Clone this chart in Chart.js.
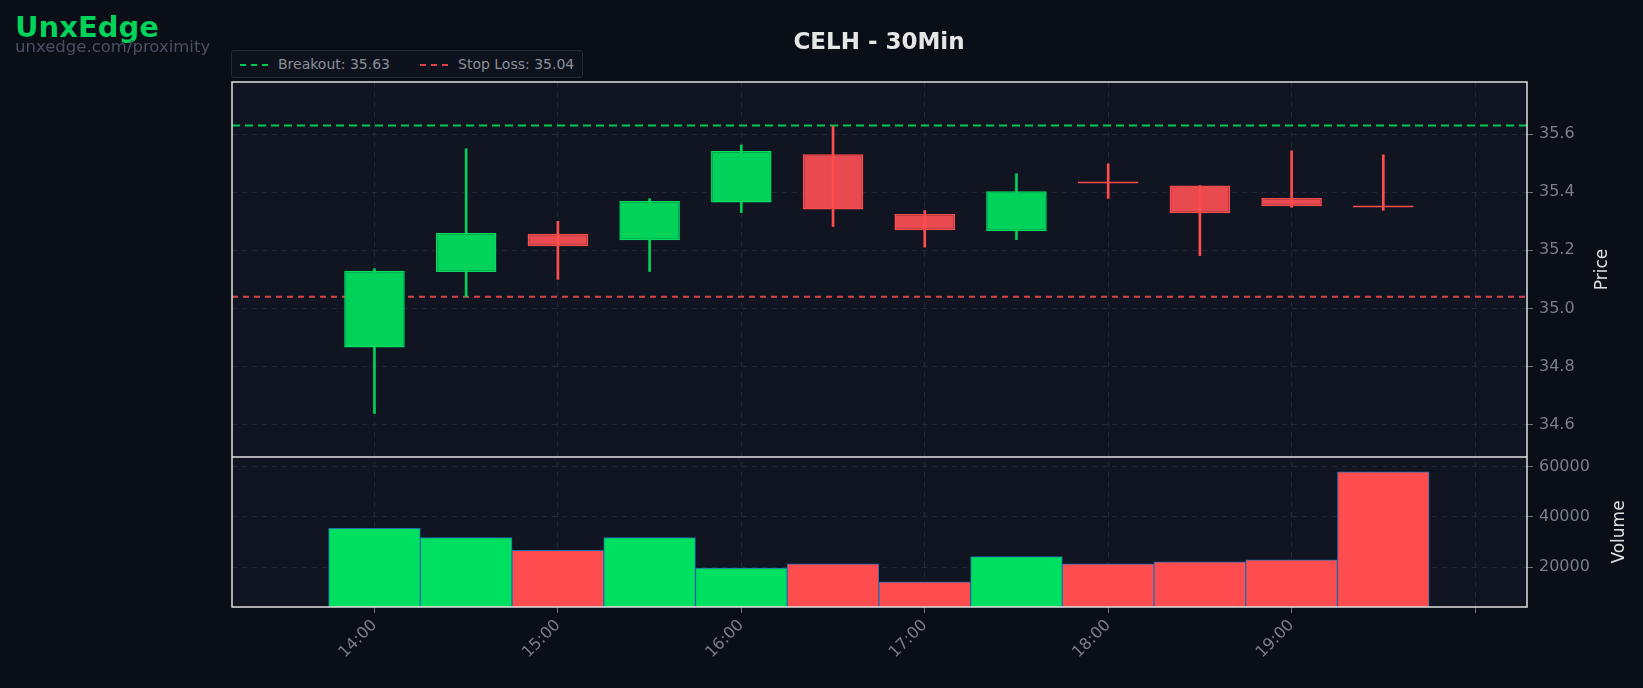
<!DOCTYPE html>
<html lang="en">
<head>
  <meta charset="UTF-8">
  <title>CELH - 30Min</title>
  <script src="https://cdn.jsdelivr.net/npm/chart.js@4.4.1/dist/chart.umd.min.js"></script>
  <style>
    html, body { margin: 0; padding: 0; background: #0a0e16; overflow: hidden; }
    body { width: 1643px; height: 688px; position: relative; font-family: "DejaVu Sans", sans-serif; }
    #wrap { position: absolute; left: 0; top: 0; width: 1643px; height: 688px; }
    #brand { position: absolute; left: 15px; top: 10px; color: #00d25a; font-weight: bold; font-size: 29px; }
    #sub { position: absolute; left: 15px; top: 37px; color: #4a5060; font-size: 16.5px; }
    #title { position: absolute; left: 0; width: 1758px; top: 28px; text-align: center; color: #e6e6e6; font-weight: bold; font-size: 23px; }
    #legend { position: absolute; left: 231px; top: 50px; height: 26px; padding: 0 8px; border: 1px solid #252a38; border-radius: 3px;
      background: #0e121c; color: #8a909a; font-size: 14px; display: flex; align-items: center; gap: 30px; }
    #legend span.k { display: inline-block; width: 28px; border-top: 2px dashed; vertical-align: middle; margin-right: 10px; }
  </style>
</head>
<body>
  <div id="wrap"><canvas id="chart"></canvas></div>
  <div id="brand">UnxEdge</div>
  <div id="sub">unxedge.com/proximity</div>
  <div id="title">CELH - 30Min</div>
  <div id="legend">
    <div><span class="k" style="border-color:#00c853"></span>Breakout: 35.63</div>
    <div><span class="k" style="border-color:#d9434b"></span>Stop Loss: 35.04</div>
  </div>
  <script>
    // times in minutes after midnight
    const times = [840, 870, 900, 930, 960, 990, 1020, 1050, 1080, 1110, 1140, 1170];
    const opens  = [34.865, 35.125, 35.257, 35.235, 35.365, 35.531, 35.325, 35.266, 35.431, 35.423, 35.380, 35.349];
    const highs  = [35.137, 35.550, 35.300, 35.378, 35.563, 35.627, 35.337, 35.464, 35.498, 35.423, 35.543, 35.529];
    const lows   = [34.638, 35.040, 35.100, 35.127, 35.330, 35.282, 35.211, 35.237, 35.379, 35.182, 35.348, 35.338];
    const closes = [35.130, 35.260, 35.214, 35.370, 35.542, 35.341, 35.269, 35.404, 35.430, 35.328, 35.352, 35.348];
    const volumes = [35400, 31700, 26700, 31700, 19600, 21300, 14200, 24200, 21300, 22100, 22900, 57900];
    const breakout = 35.63;
    const stopLoss = 35.04;
    const xTicks = [840, 900, 960, 1020, 1080, 1140, 1200];
    const priceTicks = [34.6, 34.8, 35.0, 35.2, 35.4, 35.6];
    const volTicks = [20000, 40000, 60000];

    const xMin = 793.4, xMax = 1217;
    const up = times.map((t, i) => closes[i] >= opens[i]);
    const GREEN = '#00d25a', RED = '#e84a4f', WICK_RED = '#ff4d4d';

    const frame = {
      id: 'frame',
      beforeDraw(c) {
        const ctx = c.ctx, a = c.chartArea;
        ctx.save();
        ctx.fillStyle = '#111522';
        ctx.fillRect(a.left, a.top, a.right - a.left, a.bottom - a.top);
        ctx.restore();
      },
      afterDraw(c) {
        const ctx = c.ctx, a = c.chartArea, yv = c.scales.yv;
        ctx.save();
        ctx.strokeStyle = '#e0e0e0';
        ctx.lineWidth = 1.5;
        ctx.strokeRect(a.left, a.top, a.right - a.left, a.bottom - a.top);
        ctx.beginPath();
        ctx.moveTo(a.left, yv.top); ctx.lineTo(a.right, yv.top);
        ctx.stroke();
        // axis titles
        ctx.fillStyle = '#e0e0e0';
        ctx.font = '17px "DejaVu Sans"';
        ctx.textAlign = 'center';
        const yp = c.scales.y;
        [['Price', 1607, (yp.top + yp.bottom) / 2], ['Volume', 1624, (yv.top + yv.bottom) / 2]].forEach(([t, x, y]) => {
          ctx.save();
          ctx.translate(x, y);
          ctx.rotate(-Math.PI / 2);
          ctx.fillText(t, 0, 0);
          ctx.restore();
        });
        ctx.restore();
      }
    };

    const grid = { color: '#22273a', lineWidth: 1, offset: false, drawTicks: true, tickColor: '#6b7080', tickLength: 6 };
    const border = { display: false, dash: [5, 5] };
    const tickFont = { family: 'DejaVu Sans', size: 16 };

    new Chart(document.getElementById('chart'), {
      type: 'bar',
      data: {
        datasets: [
          {
            label: 'wick', yAxisID: 'y', grouped: false, barThickness: 2,
            data: times.map((t, i) => ({ x: t, y: [lows[i], highs[i]] })),
            backgroundColor: up.map(u => u ? GREEN : WICK_RED)
          },
          {
            label: 'body', yAxisID: 'y', grouped: false, barPercentage: 0.66, categoryPercentage: 1, minBarLength: 2,
            data: times.map((t, i) => ({ x: t, y: [opens[i], closes[i]] })),
            backgroundColor: up.map(u => u ? GREEN : RED),
            borderColor: up.map(u => u ? '#00e060' : WICK_RED),
            borderWidth: 1.5, borderSkipped: false
          },
          {
            label: 'volume', yAxisID: 'yv', grouped: false, barPercentage: 1, categoryPercentage: 1,
            data: times.map((t, i) => ({ x: t, y: volumes[i] })),
            backgroundColor: up.map(u => u ? '#00e060' : '#ff4d4f'),
            borderColor: '#1f6fb0', borderWidth: 1
          },
          {
            type: 'line', label: 'Breakout', yAxisID: 'y',
            data: [{ x: xMin, y: breakout }, { x: xMax, y: breakout }],
            borderColor: '#00c853', borderWidth: 2, borderDash: [8, 5], pointRadius: 0
          },
          {
            type: 'line', label: 'Stop Loss', yAxisID: 'y',
            data: [{ x: xMin, y: stopLoss }, { x: xMax, y: stopLoss }],
            borderColor: '#d9434b', borderWidth: 2, borderDash: [6, 5], pointRadius: 0
          }
        ]
      },
      options: {
        responsive: true, maintainAspectRatio: false, animation: false,
        layout: { padding: { left: 232, top: 82, right: 0, bottom: 0 } },
        plugins: { legend: { display: false }, tooltip: { enabled: false } },
        scales: {
          x: {
            type: 'linear', min: xMin, max: xMax, offset: false,
            grid: grid, border: border,
            afterBuildTicks: s => { s.ticks = xTicks.map(v => ({ value: v })); },
            afterFit: s => { s.height = 81; },
            ticks: {
              color: '#7a7f8c', font: tickFont, maxRotation: 45, minRotation: 45,
              callback: v => v >= 1200 ? '' : String(Math.floor(v / 60)).padStart(2, '0') + ':' + String(v % 60).padStart(2, '0')
            }
          },
          y: {
            position: 'right', stack: 'p', stackWeight: 2.5, min: 34.488, max: 35.78,
            grid: grid, border: border,
            afterBuildTicks: s => { s.ticks = priceTicks.map(v => ({ value: v })); },
            afterFit: s => { s.width = 116; },
            ticks: { color: '#7a7f8c', font: tickFont, padding: 6, callback: v => v.toFixed(1) }
          },
          yv: {
            position: 'right', stack: 'p', stackWeight: 1, min: 4170, max: 63750, offset: false,
            grid: grid, border: border,
            afterBuildTicks: s => { s.ticks = volTicks.map(v => ({ value: v })); },
            afterFit: s => { s.width = 116; },
            ticks: { color: '#7a7f8c', font: tickFont, padding: 6, callback: v => String(v) }
          }
        }
      },
      plugins: [frame]
    });
  </script>
</body>
</html>
